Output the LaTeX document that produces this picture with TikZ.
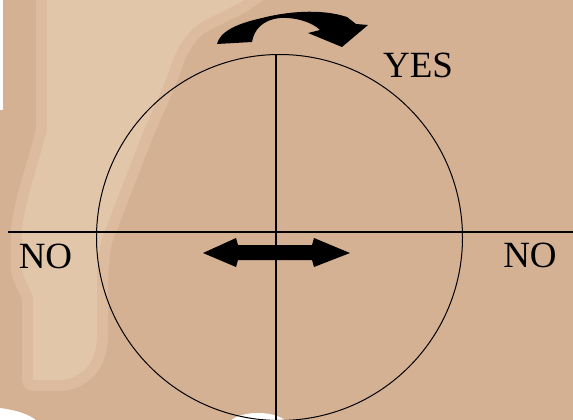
\documentclass[tikz,border=0pt]{standalone}
\usepackage{fontspec}
\setmainfont{Liberation Serif}
\definecolor{skinbase}{HTML}{D5B194}
\definecolor{skinlight}{HTML}{E2C6AA}
\definecolor{skinmid}{HTML}{DCBB9E}
\begin{document}
\begin{tikzpicture}[x=1pt,y=-1pt,
  axis/.style={draw=black,line width=2pt},
  ring/.style={circle,draw=black,line width=1pt,minimum size=366pt,inner sep=0pt},
  label/.style={font=\fontsize{37}{40}\selectfont,inner sep=0pt,text=black},
  blob/.style={fill=black,draw=none}]
\useasboundingbox (0,0) rectangle (573,420);
% background
\fill[skinbase] (0,0) rectangle (573,420);
\fill[white] (0,0) rectangle (3,110);
\path[preaction={draw=skinmid,line width=22pt,line join=round},fill=skinlight]
  (47,-15) -- (47,130) .. controls (40,160) and (25,200) .. (22,230)
  -- (22,270) .. controls (26,285) and (33,292) .. (33,300)
  -- (33,380) -- (62,380) .. controls (85,377) and (97,360) .. (97,335)
  -- (97,280) .. controls (98,255) and (100,240) .. (106,228)
  -- (140,140) .. controls (150,115) and (165,85) .. (173,60)
  .. controls (180,42) and (190,28) .. (205,20)
  .. controls (225,10) and (245,2) .. (265,-15) -- cycle;
\fill[white] (0,408) .. controls (15,410) and (30,414) .. (38,422) -- (0,422) -- cycle;
\fill[white] (258,426) ellipse [x radius=30, y radius=13];
% circle and axes
\node[ring] (ring) at (279.5,237.5) {};
\coordinate (hl) at (8,232);
\coordinate (hr) at (573,232);
\coordinate (vt) at (276,55);
\coordinate (vb) at (276,422);
\draw[axis] (hl) -- (hr);
\draw[axis] (vt) -- (vb);
% curved rotation arrow
\fill[blob] (217,44) .. controls (220,32) and (235,24) .. (262,18)
  .. controls (285,12) and (320,8) .. (347,17)
  -- (356,24) -- (368,25) -- (342,47) -- (308,33) -- (320,30)
  .. controls (312,22) and (295,17) .. (280,18)
  .. controls (262,20) and (254,30) .. (252,42) -- cycle;
% horizontal double arrow
\fill[blob] (203,253) -- (236,238) -- (238,245) -- (312,245) -- (314,238)
  -- (350,253) -- (314,267) -- (312,260) -- (238,260) -- (236,267) -- cycle;
% labels
\node[label] (yes) at (418,65) {YES};
\node[label] (noleft) at (45.5,256) {NO};
\node[label] (noright) at (530,255) {NO};
\end{tikzpicture}
\end{document}
